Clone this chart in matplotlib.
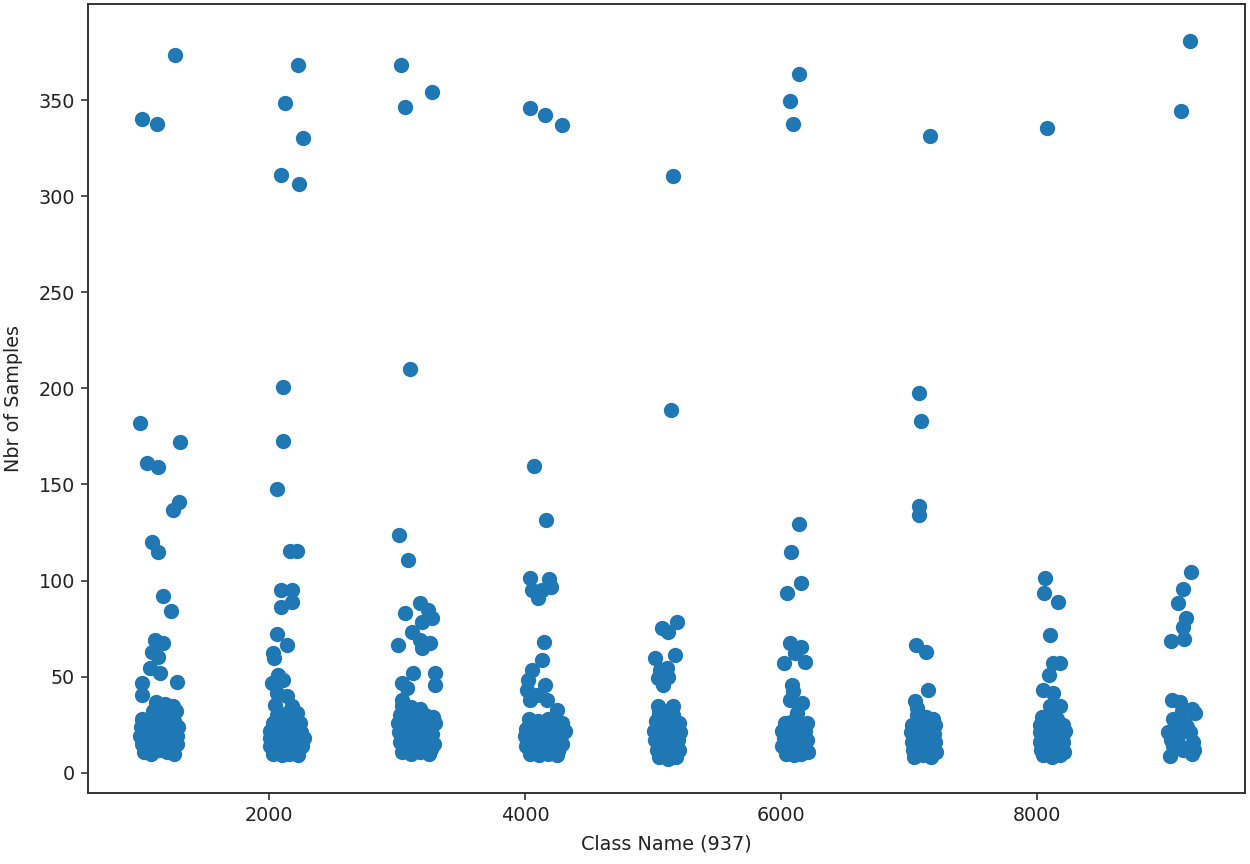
import numpy as np
from matplotlib import pyplot as plt

# class id (x) and number of samples (y), read per group of classes
x_1000 = [1005, 1123, 1266, 991, 1301, 1049, 1136, 1294, 1252, 1086, 1136, 1170, 1234,
          1109, 1174, 1083, 1135, 1070, 1148, 1005, 1005, 1284,
          1120, 1190, 1250, 1095, 1160, 1230, 1275, 1010, 1070, 1130, 1200, 1260,
          1000, 1050, 1110, 1170, 1240, 1290, 995, 1040, 1090, 1150, 1210, 1280,
          1005, 1060, 1120, 1180, 1235, 1285, 1020, 1080, 1140, 1200, 1260,
          1030, 1100, 1165, 1220, 1045, 1115, 1185, 1250]
y_1000 = [340, 337.5, 373.6, 182, 172, 161, 159, 141, 136.5, 120, 115, 92, 84,
          69, 67.5, 63, 60.5, 54.5, 52, 46.7, 40.6, 47,
          37, 36, 35, 32, 33, 31, 32, 28, 27, 28, 29, 27,
          24, 23, 24, 25, 23, 24, 19, 20, 19, 21, 20, 19,
          15, 16, 14, 15, 16, 15, 11, 10, 12, 11, 10,
          21.5, 22, 17.5, 18, 13, 13.5, 26, 30]

x_2000 = [2227, 2125, 2266, 2094, 2234, 2111, 2111, 2062, 2163, 2221,
          2091, 2177, 2091, 2177, 2060, 2143, 2029, 2039,
          2073, 2021, 2112, 2060, 2138, 2047, 2177, 2216,
          2060, 2140, 2200, 2030, 2100, 2170, 2240, 2010, 2070, 2130, 2190, 2250,
          2005, 2060, 2120, 2180, 2240, 2270, 2010, 2070, 2130, 2200, 2260,
          2030, 2100, 2160, 2230,
          2040, 2095, 2155, 2215, 2045, 2105, 2165, 2225]
y_2000 = [368.4, 348.6, 330.4, 311, 306.5, 200.5, 172.4, 147.6, 115.2, 115.2,
          95.2, 95.2, 86.5, 89.1, 72.3, 66.6, 62.3, 59.7,
          51, 46.7, 48.4, 41.5, 39.7, 35.4, 34.5, 31.1,
          30, 31, 29, 26, 27, 25, 26, 22, 21, 23, 22, 21,
          18, 17, 18, 19, 17, 18, 14, 13, 14, 13, 14,
          10, 9, 10, 9,
          24, 19.5, 16, 20, 12, 11.5, 28, 15.5]

x_3000 = [3031, 3063, 3273, 3098, 3016, 3083,
          3063, 3180, 3245, 3271, 3115, 3193, 3180, 3258, 3010, 3193,
          3128, 3297, 3297, 3037, 3076, 3037,
          3040, 3110, 3180, 3020, 3080, 3150, 3220, 3280,
          3010, 3070, 3130, 3200, 3260, 3300, 3015, 3075, 3140, 3210, 3270,
          3020, 3090, 3160, 3230, 3290, 3040, 3110, 3180, 3250,
          3050, 3105, 3170, 3240, 3045, 3120, 3190, 3265]
y_3000 = [368.4, 346.5, 354.3, 210.2, 123.8, 110.8,
          83.1, 88.3, 84.8, 80.5, 73.5, 78.7, 69.2, 67.5, 66.6, 64.9,
          51.9, 51.9, 45.8, 46.7, 44.1, 38,
          35, 34, 33, 30, 29, 31, 30, 29,
          26, 25, 26, 24, 25, 26, 21, 20, 22, 21, 20,
          16, 15, 17, 16, 15, 11, 10, 11, 10,
          23, 18, 13, 28, 13.5, 27.5, 19, 12.5]

x_4000 = [4039, 4156, 4289, 4073, 4168,
          4038, 4188, 4058, 4130, 4102, 4203,
          4151, 4130, 4052, 4026, 4013, 4156, 4039, 4091, 4169, 4248, 4287,
          4030, 4100, 4180, 4250, 4005, 4060, 4130, 4200, 4270, 4310,
          4000, 4070, 4140, 4210, 4280, 4010, 4080, 4150, 4220, 4290,
          4040, 4110, 4180, 4250,
          4045, 4105, 4165, 4235, 4050, 4120, 4190, 4260]
y_4000 = [346, 342.4, 337, 159.4, 131.3,
          101.3, 100.7, 95.2, 95.2, 90.9, 96.9,
          68.3, 58.8, 53.6, 48.4, 43.2, 45.8, 38, 40.6, 38, 32.8, 25.9,
          28, 27, 28, 26, 23, 24, 22, 23, 24, 22,
          19, 18, 19, 18, 19, 14, 15, 13, 14, 15,
          10, 9, 10, 9,
          21, 16.5, 25, 20.5, 12, 12.5, 16, 11.5]

x_5000 = [5156, 5137, 5068, 5185, 5120, 5016, 5172,
          5055, 5107, 5041, 5080, 5120, 5041, 5158,
          5050, 5110, 5160, 5020, 5080, 5140, 5200, 5010, 5070, 5130, 5190, 5210,
          5015, 5075, 5135, 5195, 5030, 5090, 5150, 5200, 5050, 5120, 5180,
          5045, 5105, 5165, 5100, 5060, 5140]
y_5000 = [310.6, 188.9, 75.3, 78.7, 73.5, 59.7, 61.4,
          53.6, 54.5, 49.3, 45.8, 50.1, 34.5, 34.5,
          31, 32, 30, 27, 26, 27, 26, 22, 21, 23, 22, 21,
          17, 16, 18, 17, 12, 11, 13, 12, 8, 7, 8,
          19.5, 24, 15, 29, 14.5, 10]

x_6000 = [6070, 6141, 6094, 6141, 6077, 6156, 6045,
          6068, 6156, 6024, 6185, 6112, 6083, 6096, 6162, 6070, 6122, 6045, 6096,
          6030, 6090, 6150, 6200, 6010, 6070, 6130, 6190, 6020, 6080, 6140, 6200,
          6010, 6070, 6130, 6190, 6040, 6100, 6160, 6210,
          6050, 6110, 6170, 6045, 6105, 6165]
y_6000 = [349.6, 363.7, 337.7, 129.4, 115.1, 98.9, 93.5,
          67.5, 65.7, 57.1, 57.9, 62.3, 45.8, 42.3, 36.3, 38, 31.1, 25.9, 22.4,
          26, 27, 25, 26, 22, 21, 23, 22, 18, 17, 18, 17,
          14, 13, 14, 13, 10, 9, 10, 11,
          19.5, 24.5, 15.5, 12, 15, 20]

x_7000 = [7164, 7081, 7096, 7081, 7081, 7051, 7131, 7151, 7047, 7060,
          7060, 7130, 7190, 7020, 7080, 7140, 7200, 7015, 7075, 7135, 7195,
          7020, 7080, 7140, 7200, 7030, 7090, 7150, 7210, 7040, 7110, 7170,
          7050, 7110, 7170, 7045, 7105, 7165]
y_7000 = [331.4, 197.5, 183.1, 138.6, 134.2, 66.6, 63.1, 43.2, 37.1, 33.6,
          30, 29, 28, 25, 26, 24, 25, 21, 20, 21, 20,
          16, 17, 15, 16, 12, 11, 12, 11, 8, 9, 8,
          23, 18.5, 18, 14, 14.5, 22.5]

x_8000 = [8078, 8065, 8051, 8162, 8103, 8124, 8183, 8095,
          8049, 8127, 8102, 8180,
          8040, 8100, 8160, 8020, 8080, 8140, 8200, 8025, 8085, 8145, 8205, 8220,
          8020, 8080, 8140, 8200, 8030, 8090, 8150, 8210, 8050, 8120, 8180,
          8050, 8110, 8170, 8055, 8115, 8175]
y_8000 = [335.6, 101.3, 93.5, 89.1, 71.8, 57.1, 57.1, 51,
          43.2, 41.5, 34.5, 34.5,
          29, 30, 28, 25, 24, 26, 25, 21, 20, 21, 20, 22,
          16, 17, 15, 16, 12, 11, 12, 11, 9, 8, 9,
          23, 22.5, 18.5, 14, 14.5, 13.5]

x_9000 = [9195, 9125, 9202, 9138, 9102, 9166, 9138, 9049, 9152,
          9052, 9117, 9208, 9234, 9130, 9065, 9156, 9026, 9104, 9195, 9221,
          9039, 9208, 9117, 9065, 9090, 9170, 9140, 9050, 9230]
y_9000 = [380.9, 344.4, 104.4, 95.5, 88.3, 80.5, 76.1, 68.7, 69.6,
          38, 37, 33, 31, 32, 28, 26, 21, 19, 21, 16,
          8.5, 10, 14, 14, 23, 24, 12, 17, 12]

class_names = np.array(x_1000 + x_2000 + x_3000 + x_4000 + x_5000
                       + x_6000 + x_7000 + x_8000 + x_9000)
nbr_samples = np.array(y_1000 + y_2000 + y_3000 + y_4000 + y_5000
                       + y_6000 + y_7000 + y_8000 + y_9000)

plt.rcParams['font.family'] = ['DejaVu Sans']
plt.rcParams['font.size'] = 13.8

fig = plt.figure(figsize=(12.5, 8.64), dpi=100)
ax = fig.add_axes([0.0704, 0.0822, 0.9256, 0.9132])
ax.scatter(class_names, nbr_samples, s=100, color='#1f77b4')

ax.set_xlim(586, 9625)
ax.set_ylim(-10.5, 400)
ax.set_xticks([2000, 4000, 6000, 8000])
ax.set_yticks([0, 50, 100, 150, 200, 250, 300, 350])
ax.tick_params(length=5, width=1.1, pad=4.5, colors='#222222')
for sp in ax.spines.values():
    sp.set_linewidth(1.4)
    sp.set_color('#333333')

ax.set_xlabel("Class Name (937)", color='#222222', labelpad=7)
ax.set_ylabel("Nbr of Samples", color='#222222', labelpad=11)

fig.savefig("out.png", dpi=100)
